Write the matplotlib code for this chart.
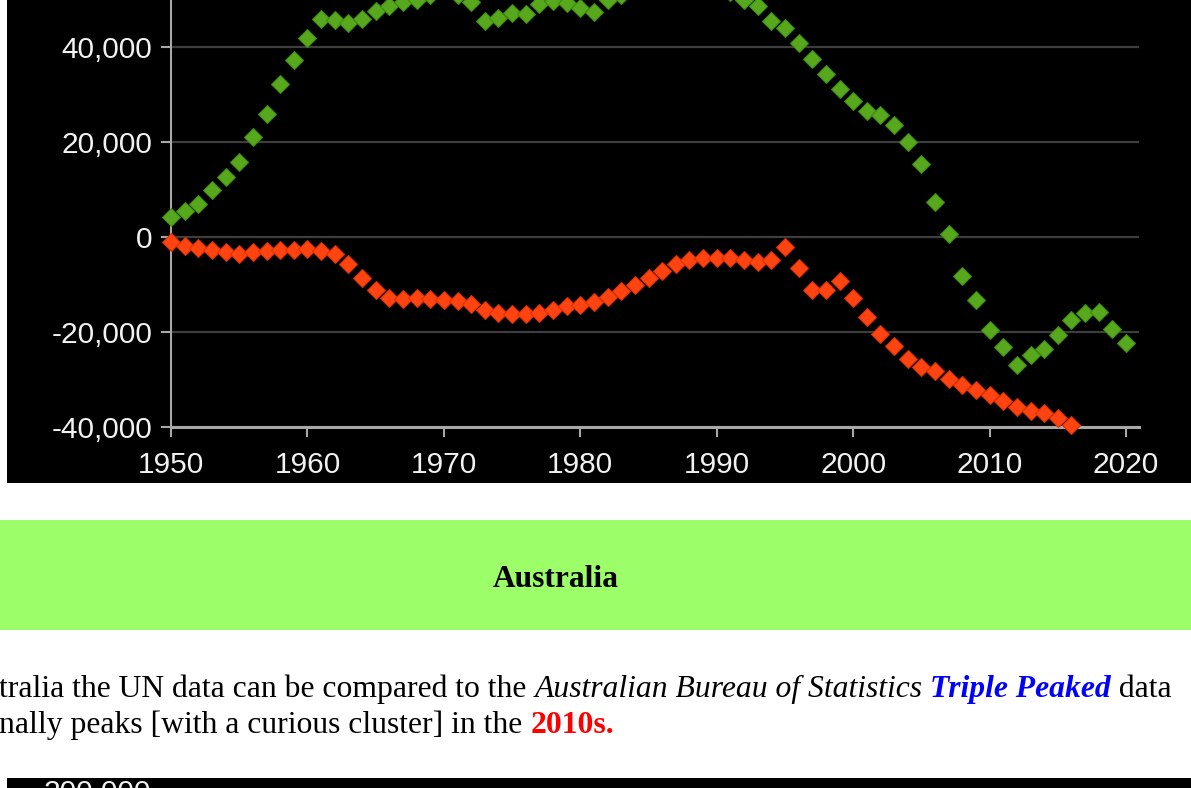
"""
Net migration style scatter (UN data), screenshot with the Australia heading below
"""

import numpy as np
import matplotlib
matplotlib.use('Agg')
import matplotlib.pyplot as plt
from matplotlib.patches import Rectangle

# ---- data ----
green_years = list(range(1950, 2021))
green_vals = [4130, 5530, 6930, 9880, 12680, 15690, 20950, 25990, 32290, 37200,
              41820, 45810, 45670, 44970, 45810, 47570, 48620, 49460, 50000, 51000,
              52000, 51000, 49460, 45460, 46160, 47210, 46860, 48970, 49670, 49180,
              48270, 47300, 50000, 51000, 52500, 54000, 55000, 55500, 55000, 54000,
              53000, 51500, 50000, 48600, 45460, 44060, 40770, 37400, 34250, 31240,
              28650, 26550, 25640, 23540, 20030, 15340, 7400, 650, -8300, -13200,
              -19600, -23100, -27000, -24900, -23600, -20600, -17500, -15900, -15850, -19350,
              -22400]

red_years = list(range(1950, 2017))
red_vals = [-1110, -1950, -2300, -2790, -3140, -3550, -3200, -2860, -2790, -2790,
            -2510, -2860, -3550, -5640, -8570, -11150, -12890, -12960, -12890, -13100,
            -13240, -13450, -14150, -15350, -16000, -16260, -16260, -16000, -15300, -14600,
            -14330, -13750, -12560, -11370, -10100, -8560, -7090, -5750, -4840, -4350,
            -4350, -4350, -4840, -5330, -4840, -2200, -6570, -11200, -11200, -9330,
            -12840, -16840, -20350, -23020, -25750, -27370, -28280, -29820, -31230, -32280,
            -33330, -34530, -35790, -36700, -36980, -38040, -39500]

yticks = [-40000, -20000, 0, 20000, 40000]
xticks = [1950, 1960, 1970, 1980, 1990, 2000, 2010, 2020]

# body text runs: (text, style, weight, colour)
line1 = [('tralia the UN data can be compared to the ', 'normal', 'normal', 'black'),
         ('Australian Bureau of Statistics', 'italic', 'normal', 'black'),
         (' ', 'normal', 'normal', 'black'),
         ('Triple Peaked', 'italic', 'bold', '#0000ff'),
         (' data', 'normal', 'normal', 'black')]
line2 = [('nally peaks [with a curious cluster] in the ', 'normal', 'normal', 'black'),
         ('2010s.', 'normal', 'bold', '#ff0000')]

W, H = 1191, 788


def fx(px):
    return px / W


def fy(py):
    return 1 - py / H


fig = plt.figure(figsize=(W / 100, H / 100), dpi=100)
fig.patch.set_facecolor('white')

# black chart background and the next chart peeking in at the bottom
fig.patches.append(Rectangle((fx(7), fy(483)), 1, 483 / H, transform=fig.transFigure,
                             facecolor='black', edgecolor='none', zorder=0))
fig.patches.append(Rectangle((fx(7), 0), 1, 10 / H, transform=fig.transFigure,
                             facecolor='black', edgecolor='none', zorder=0))
# green heading band
fig.patches.append(Rectangle((0, fy(630)), 1, 110 / H, transform=fig.transFigure,
                             facecolor='#9cff6a', edgecolor='none', zorder=0))

ax = fig.add_axes([fx(171), fy(427), fx(1139 - 171), 427 / H])
ax.set_zorder(2)
ax.set_facecolor('black')
ax.plot(green_years, green_vals, linestyle='none', marker='D', ms=9,
        color='#58a81e', mec='#3f8a12', mew=0.8, clip_on=False, zorder=3)
ax.plot(red_years, red_vals, linestyle='none', marker='D', ms=9,
        color='#ff4411', mec='#d93200', mew=0.8, clip_on=False, zorder=3)

ax.set_xlim(1950, 1950 + (1139 - 171) / (955 / 70))
ax.set_ylim(-40000, 40000 + 47 * 20000 / 95)
ax.set_xticks(xticks)
ax.set_yticks(yticks)
ax.set_yticklabels(['{:,}'.format(v) for v in yticks])
ax.grid(axis='y', color='#3e3e3e', linewidth=1.6)
ax.set_axisbelow(True)

for s in ['top', 'right']:
    ax.spines[s].set_visible(False)
ax.spines['left'].set_color('#a8a8a8')
ax.spines['left'].set_linewidth(1.5)
ax.spines['bottom'].set_color('#a8a8a8')
ax.spines['bottom'].set_linewidth(2.2)
ax.tick_params(colors='#a8a8a8', labelcolor='#f2f2f2', length=7.5, width=1.5,
               labelsize=21.5)
ax.tick_params(axis='y', pad=6)
ax.tick_params(axis='x', pad=10)
for lab in ax.get_xticklabels() + ax.get_yticklabels():
    lab.set_family('Liberation Sans')

# peeking tick label of the chart below
fig.text(fx(151), fy(779), '200,000', ha='right', va='top', color='#f2f2f2',
         family='Liberation Sans', fontsize=21.5)

# heading and body text
serif = 'Liberation Serif'
fig.text(fx(556), fy(587), 'Australia', ha='center', va='baseline',
         family=serif, weight='bold', fontsize=22.7)

fs = 22.8
renderer = fig.canvas.get_renderer()
for runs, base in [(line1, 697), (line2, 733)]:
    x = -1
    for txt, st, wt, col in runs:
        t = fig.text(fx(x), fy(base), txt, va='baseline', family=serif,
                     style=st, weight=wt, color=col, fontsize=fs)
        x += t.get_window_extent(renderer).width

fig.savefig('out.png', dpi=100, facecolor=fig.get_facecolor())
